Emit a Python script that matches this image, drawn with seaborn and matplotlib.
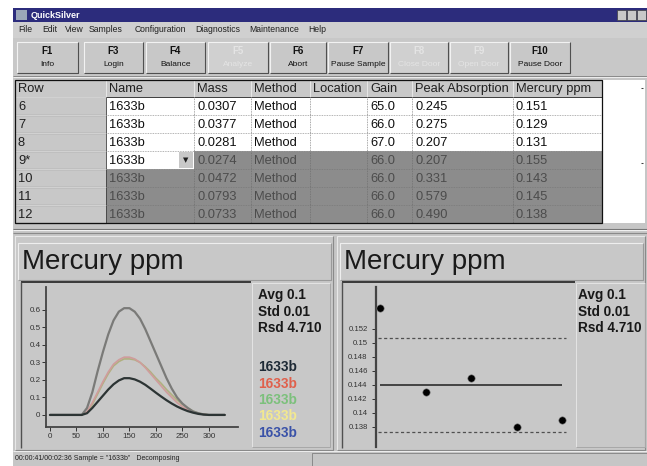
import matplotlib
matplotlib.use("Agg")
import matplotlib.pyplot as plt
from matplotlib.patches import Rectangle
import seaborn as sns
import pandas as pd

# ---- table data ----
columns = ['Row', 'Name', 'Mass', 'Method', 'Location', 'Gain', 'Peak Absorption', 'Mercury ppm']
rows = ['6', '7', '8', '9*', '10', '11', '12']
names = ['1633b'] * 7
masses = ['0.0307', '0.0377', '0.0281', '0.0274', '0.0472', '0.0793', '0.0733']
methods = ['Method'] * 7
locations = [''] * 7
gains = ['65.0', '66.0', '67.0', '66.0', '66.0', '66.0', '66.0']
peak_abs = ['0.245', '0.275', '0.207', '0.207', '0.331', '0.579', '0.490']
mercury = ['0.151', '0.129', '0.131', '0.155', '0.143', '0.145', '0.138']

# ---- absorbance curves (left plot) ----
time_s = [0, 10, 20, 30, 40, 50, 60, 70, 80, 90, 100, 110, 120, 130, 140, 150, 160,
          170, 180, 190, 200, 210, 220, 230, 240, 250, 260, 270, 280, 290, 300, 310, 320, 330]
abs_dark = [0, 0, 0, 0, 0, 0, 0, 0.01, 0.04, 0.075, 0.11, 0.145, 0.175, 0.197, 0.21, 0.21, 0.203,
            0.19, 0.172, 0.15, 0.127, 0.105, 0.084, 0.065, 0.048, 0.034, 0.022, 0.013, 0.006, 0.002, 0, 0, 0, 0]
abs_red = [0, 0, 0, 0, 0, 0, 0, 0.02, 0.07, 0.13, 0.19, 0.245, 0.29, 0.315, 0.33, 0.33, 0.32,
           0.30, 0.27, 0.235, 0.20, 0.165, 0.13, 0.10, 0.07, 0.048, 0.03, 0.017, 0.008, 0.003, 0, 0, 0, 0]
abs_olive = [0, 0, 0, 0, 0, 0, 0, 0.015, 0.06, 0.12, 0.18, 0.235, 0.28, 0.305, 0.32, 0.32, 0.315,
             0.30, 0.275, 0.245, 0.21, 0.18, 0.145, 0.115, 0.085, 0.06, 0.04, 0.022, 0.01, 0.004, 0, 0, 0, 0]
abs_gray = [0, 0, 0, 0, 0, 0, 0, 0.04, 0.13, 0.25, 0.36, 0.46, 0.54, 0.59, 0.61, 0.61, 0.59,
            0.55, 0.49, 0.42, 0.35, 0.28, 0.21, 0.15, 0.10, 0.065, 0.04, 0.02, 0.01, 0.003, 0, 0, 0, 0]
left_xticks = [0, 50, 100, 150, 200, 250, 300]
left_yticks = [0, 0.1, 0.2, 0.3, 0.4, 0.5, 0.6]
left_ylabels = ['0', '0.1', '0.2', '0.3', '0.4', '0.5', '0.6']

# ---- control chart (right plot) ----
run_idx = [0, 1, 2, 3, 4]
run_ppm = [0.155, 0.143, 0.145, 0.138, 0.139]
ppm_mean = 0.144
ppm_upper = 0.1507
ppm_lower = 0.1373
right_yticks = [0.138, 0.14, 0.142, 0.144, 0.146, 0.148, 0.15, 0.152]
right_ylabels = ['0.138', '0.14', '0.142', '0.144', '0.146', '0.148', '0.15', '0.152']

stats = ['Avg 0.1', 'Std 0.01', 'Rsd 4.710']
legend_names = ['1633b'] * 5
legend_colors = ['#1e2a36', '#e0604c', '#7cc07c', '#f2e890', '#3a52a8']

menu_items = ['File', 'Edit', 'View', 'Samples', 'Configuration', 'Diagnostics', 'Maintenance', 'Help']
menu_x = [18, 42, 65, 89, 135, 195, 249, 308]
btn_keys = ['F1', 'F3', 'F4', 'F5', 'F6', 'F7', 'F8', 'F9', 'F10']
btn_labels = ['Info', 'Login', 'Balance', 'Analyze', 'Abort', 'Pause Sample', 'Close Door', 'Open Door', 'Pause Door']
btn_enabled = [True, True, True, False, True, True, False, False, True]
btn_x = [(17, 78), (84, 143), (146, 205), (208, 268), (270, 326), (328, 388), (390, 448), (450, 508), (510, 570)]

status_text = '00:00:41/00:02:36 Sample = "1633b"   Decomposing'

sns.set_style('ticks')
plt.rcParams['font.family'] = ['Liberation Sans', 'DejaVu Sans']

W, H = 647, 466
GRAY = '#c6c6c6'
fig = plt.figure(figsize=(W / 100, H / 100), dpi=100)
ui = fig.add_axes([0, 0, 1, 1])
ui.set_xlim(0, W)
ui.set_ylim(H, 0)
ui.axis('off')


def rect(x0, y0, x1, y1, fc, ec='none', lw=0, z=1):
    ui.add_patch(Rectangle((x0, y0), x1 - x0, y1 - y0, facecolor=fc, edgecolor=ec, linewidth=lw, zorder=z))


def line(xs, ys, c, lw=0.75, ls='-', z=3):
    ui.plot(xs, ys, color=c, lw=lw, ls=ls, zorder=z, solid_capstyle='butt')


def bevel(x0, y0, x1, y1, light='#f0f0f0', dark='#6a6a6a', lw=0.8, z=3):
    line([x0, x0, x1], [y1, y0, y0], light, lw, z=z)
    line([x0, x1, x1], [y1, y1, y0], dark, lw, z=z)


def box(x0, y0, x1, y1):
    return [x0 / W, 1 - y1 / H, (x1 - x0) / W, (y1 - y0) / H]


rect(0, 0, W, H, 'white', z=0)
rect(13, 8, W, H, GRAY, z=0.5)

# title bar
rect(13, 8, W, 22, '#2c2c7c')
rect(16, 10, 27, 20, '#9aa6b8', z=2)
ui.text(31, 15.5, 'QuickSilver', color='white', fontsize=6.5, fontweight='bold', va='center', zorder=4)
for bx in [617, 627, 637]:
    rect(bx, 10, bx + 9, 20, '#c8c8c8', ec='#404040', lw=0.5, z=2)

# menu bar
rect(13, 22, W, 38, '#d0d0d0')
for item, mx in zip(menu_items, menu_x):
    ui.text(mx, 30, item, fontsize=6.2, va='center', color='#202020', zorder=4)

# toolbar
rect(13, 38, W, 78, '#c8c8c8')
line([13, W], [75.5, 75.5], '#8a8a8a', 0.7)
line([13, W], [76.5, 76.5], '#eeeeee', 0.7)
for key, lab, ok, (x0, x1) in zip(btn_keys, btn_labels, btn_enabled, btn_x):
    fc = '#c8c8c8' if ok else '#d0d0d0'
    rect(x0, 42, x1, 73, fc, z=2)
    bevel(x0, 42, x1, 73, light='#f2f2f2', dark='#505050')
    tc = '#111111' if ok else '#e4e4e4'
    cx = (x0 + x1) / 2
    ui.text(cx, 51, key, fontsize=7, fontweight='bold', ha='center', va='center', color=tc, zorder=4)
    ui.text(cx, 64, lab, fontsize=6, ha='center', va='center', color=tc, zorder=4)

# table
col_edges = [15, 106, 194, 251, 310, 367, 412, 513, 602]
y_head = 80
row_h = 18
y_rows = [97 + row_h * i for i in range(len(rows) + 1)]
table_cols = [rows, names, masses, methods, locations, gains, peak_abs, mercury]
rect(602, 80, 645, 223, 'white', z=1)
line([641, 643], [88, 88], '#404040')
line([641, 643], [163, 163], '#404040')
for c, title in enumerate(columns):
    x0, x1 = col_edges[c], col_edges[c + 1]
    rect(x0, y_head, x1, y_rows[0], '#c8c8c8', z=1)
    bevel(x0, y_head, x1, y_rows[0], light='#ececec', dark='#3c3c3c', lw=0.7)
    ui.text(x0 + 3, (y_head + y_rows[0]) / 2 + 0.5, title, fontsize=9.3, va='center', color='#202020', zorder=4)
    for r in range(len(rows)):
        y0, y1 = y_rows[r], y_rows[r + 1]
        dark_row = r >= 3 and not (r == 3 and c == 1)
        if c == 0:
            fc, tc = '#c8c8c8', '#202020'
        elif dark_row:
            fc, tc = '#8c8c8c', '#4c4c4c'
        else:
            fc, tc = 'white', '#101010'
        rect(x0, y0, x1, y1, fc, z=1)
        ui.text(x0 + 3, (y0 + y1) / 2 + 0.5, table_cols[c][r], fontsize=9.3, va='center', color=tc, zorder=4)
        if c == 0:
            line([x0, x1], [y1, y1], '#303030', 0.8)
            bevel(x0, y0, x1, y1, light='#eeeeee', dark='#404040', lw=0.6)
        else:
            line([x0, x1], [y1, y1], '#9a9a9a' if not dark_row else '#7a7a7a', 0.6, ls=(0, (1, 1)))
            line([x1, x1], [y0, y1], '#8a8a8a' if not dark_row else '#707070', 0.6, ls=(0, (1, 1)))
# dropdown button in row 9*
rect(179, y_rows[3] + 1, 193, y_rows[4] - 1, '#c8c8c8', z=2)
ui.text(186, (y_rows[3] + y_rows[4]) / 2 + 0.5, '\u25BC', fontsize=5, ha='center', va='center',
        color='#202020', zorder=4, family=['DejaVu Sans'])
rect(15, 80, 602, 223, 'none', ec='#101010', lw=0.9, z=5)

# splitter
line([13, W], [228.5, 228.5], '#707070', 0.8)
line([13, W], [230, 230], '#f0f0f0', 0.8)
line([13, W], [233, 233], '#8a8a8a', 0.8)

# panels: panel x-range, plot frame x-range, stats box right edge, stats text x
panels = [(15, 333, 21, 251, 330, 258), (337, 645, 342, 575, 645, 578)]
for px0, px1, fx0, fx1, sx1, tx in panels:
    rect(px0, 236, px1, 450, '#c8c8c8', z=1)
    bevel(px0, 236, px1, 450, light='#e8e8e8', dark='#8a8a8a')
    rect(px0 + 3, 243, px1 - 2, 280, '#c8c8c8', z=1.5)
    bevel(px0 + 3, 243, px1 - 2, 280, light='#eeeeee', dark='#9a9a9a')
    ui.text(px0 + 7, 262, 'Mercury ppm', fontsize=20, va='center', color='#1a1a1a', zorder=4)
    line([fx0, fx1], [282, 282], '#2e2e2e', 1.3)
    line([fx0, fx0], [282, 448], '#505050', 1.0)
    bevel(fx1 + 1, 283, sx1, 447, light='#e4e4e4', dark='#a8a8a8', lw=0.7)
    for k, s in enumerate(stats):
        ui.text(tx, 295 + 16.5 * k, s, fontsize=9.8, fontweight='bold', va='center', color='#181818', zorder=4)

for k, (nm, col) in enumerate(zip(legend_names, legend_colors)):
    ui.text(258, 367 + 16.5 * k, nm, fontsize=9.8, fontweight='bold', va='center', color=col, zorder=4)

# status bar
rect(13, 450, W, H, '#c6c6c6', z=1)
line([13, W], [451, 451], '#eeeeee', 0.7)
bevel(312, 453, W, H, light='#8a8a8a', dark='#f0f0f0', lw=0.7)
ui.text(15, 459, status_text, fontsize=5.0, va='center', color='#202020', zorder=4)

# ---- left plot: absorbance peaks ----
curves = pd.DataFrame({
    'time': time_s * 4,
    'absorbance': abs_olive + abs_red + abs_gray + abs_dark,
    'sample': ['olive'] * len(time_s) + ['red'] * len(time_s) + ['gray'] * len(time_s) + ['dark'] * len(time_s),
})
ax1 = fig.add_axes(box(46, 287, 238, 427))
ax1.patch.set_alpha(0)
line_styles = {'olive': ('#b0b080', 1.2), 'red': ('#cf9c9c', 1.2), 'gray': ('#7a7a78', 1.6), 'dark': ('#2c3434', 1.6)}
for name, grp in curves.groupby('sample', sort=False):
    c, lw = line_styles[name]
    sns.lineplot(data=grp, x='time', y='absorbance', color=c, lw=lw, ax=ax1)
ax1.set_xlim(-7.5, 355)
ax1.set_ylim(-0.069, 0.731)
ax1.set_xticks(left_xticks)
ax1.set_yticks(left_yticks)
ax1.set_yticklabels(left_ylabels)
ax1.set_xlabel('')
ax1.set_ylabel('')
sns.despine(ax=ax1)
for sp in ['left', 'bottom']:
    ax1.spines[sp].set_color('#444444')
    ax1.spines[sp].set_linewidth(1.3)
ax1.tick_params(axis='both', labelsize=5.8, colors='#333333', length=3, width=0.7, pad=1)

# ---- right plot: control chart ----
ax2 = fig.add_axes(box(376, 287, 576, 447))
ax2.patch.set_alpha(0)
ax2.hlines(ppm_mean, run_idx[0], run_idx[-1], color='#202020', lw=1.1)
ax2.hlines([ppm_upper, ppm_lower], run_idx[0] - 0.05, run_idx[-1] + 0.07, color='#505050', lw=0.9, linestyles=(0, (2.5, 2)))
sns.scatterplot(x=run_idx, y=run_ppm, color='black', s=28, edgecolor='#777777', linewidth=0.4, ax=ax2, zorder=5)
ax2.set_xlim(-0.09, 4.3)
ax2.set_ylim(0.13514, 0.158)
ax2.set_xticks([])
ax2.set_yticks(right_yticks)
ax2.set_yticklabels(right_ylabels)
sns.despine(ax=ax2, bottom=True)
ax2.spines['left'].set_color('#444444')
ax2.spines['left'].set_linewidth(1.6)
ax2.tick_params(axis='y', labelsize=5.6, colors='#333333', length=3, width=0.7, pad=3)

fig.savefig('out.png', dpi=100)
